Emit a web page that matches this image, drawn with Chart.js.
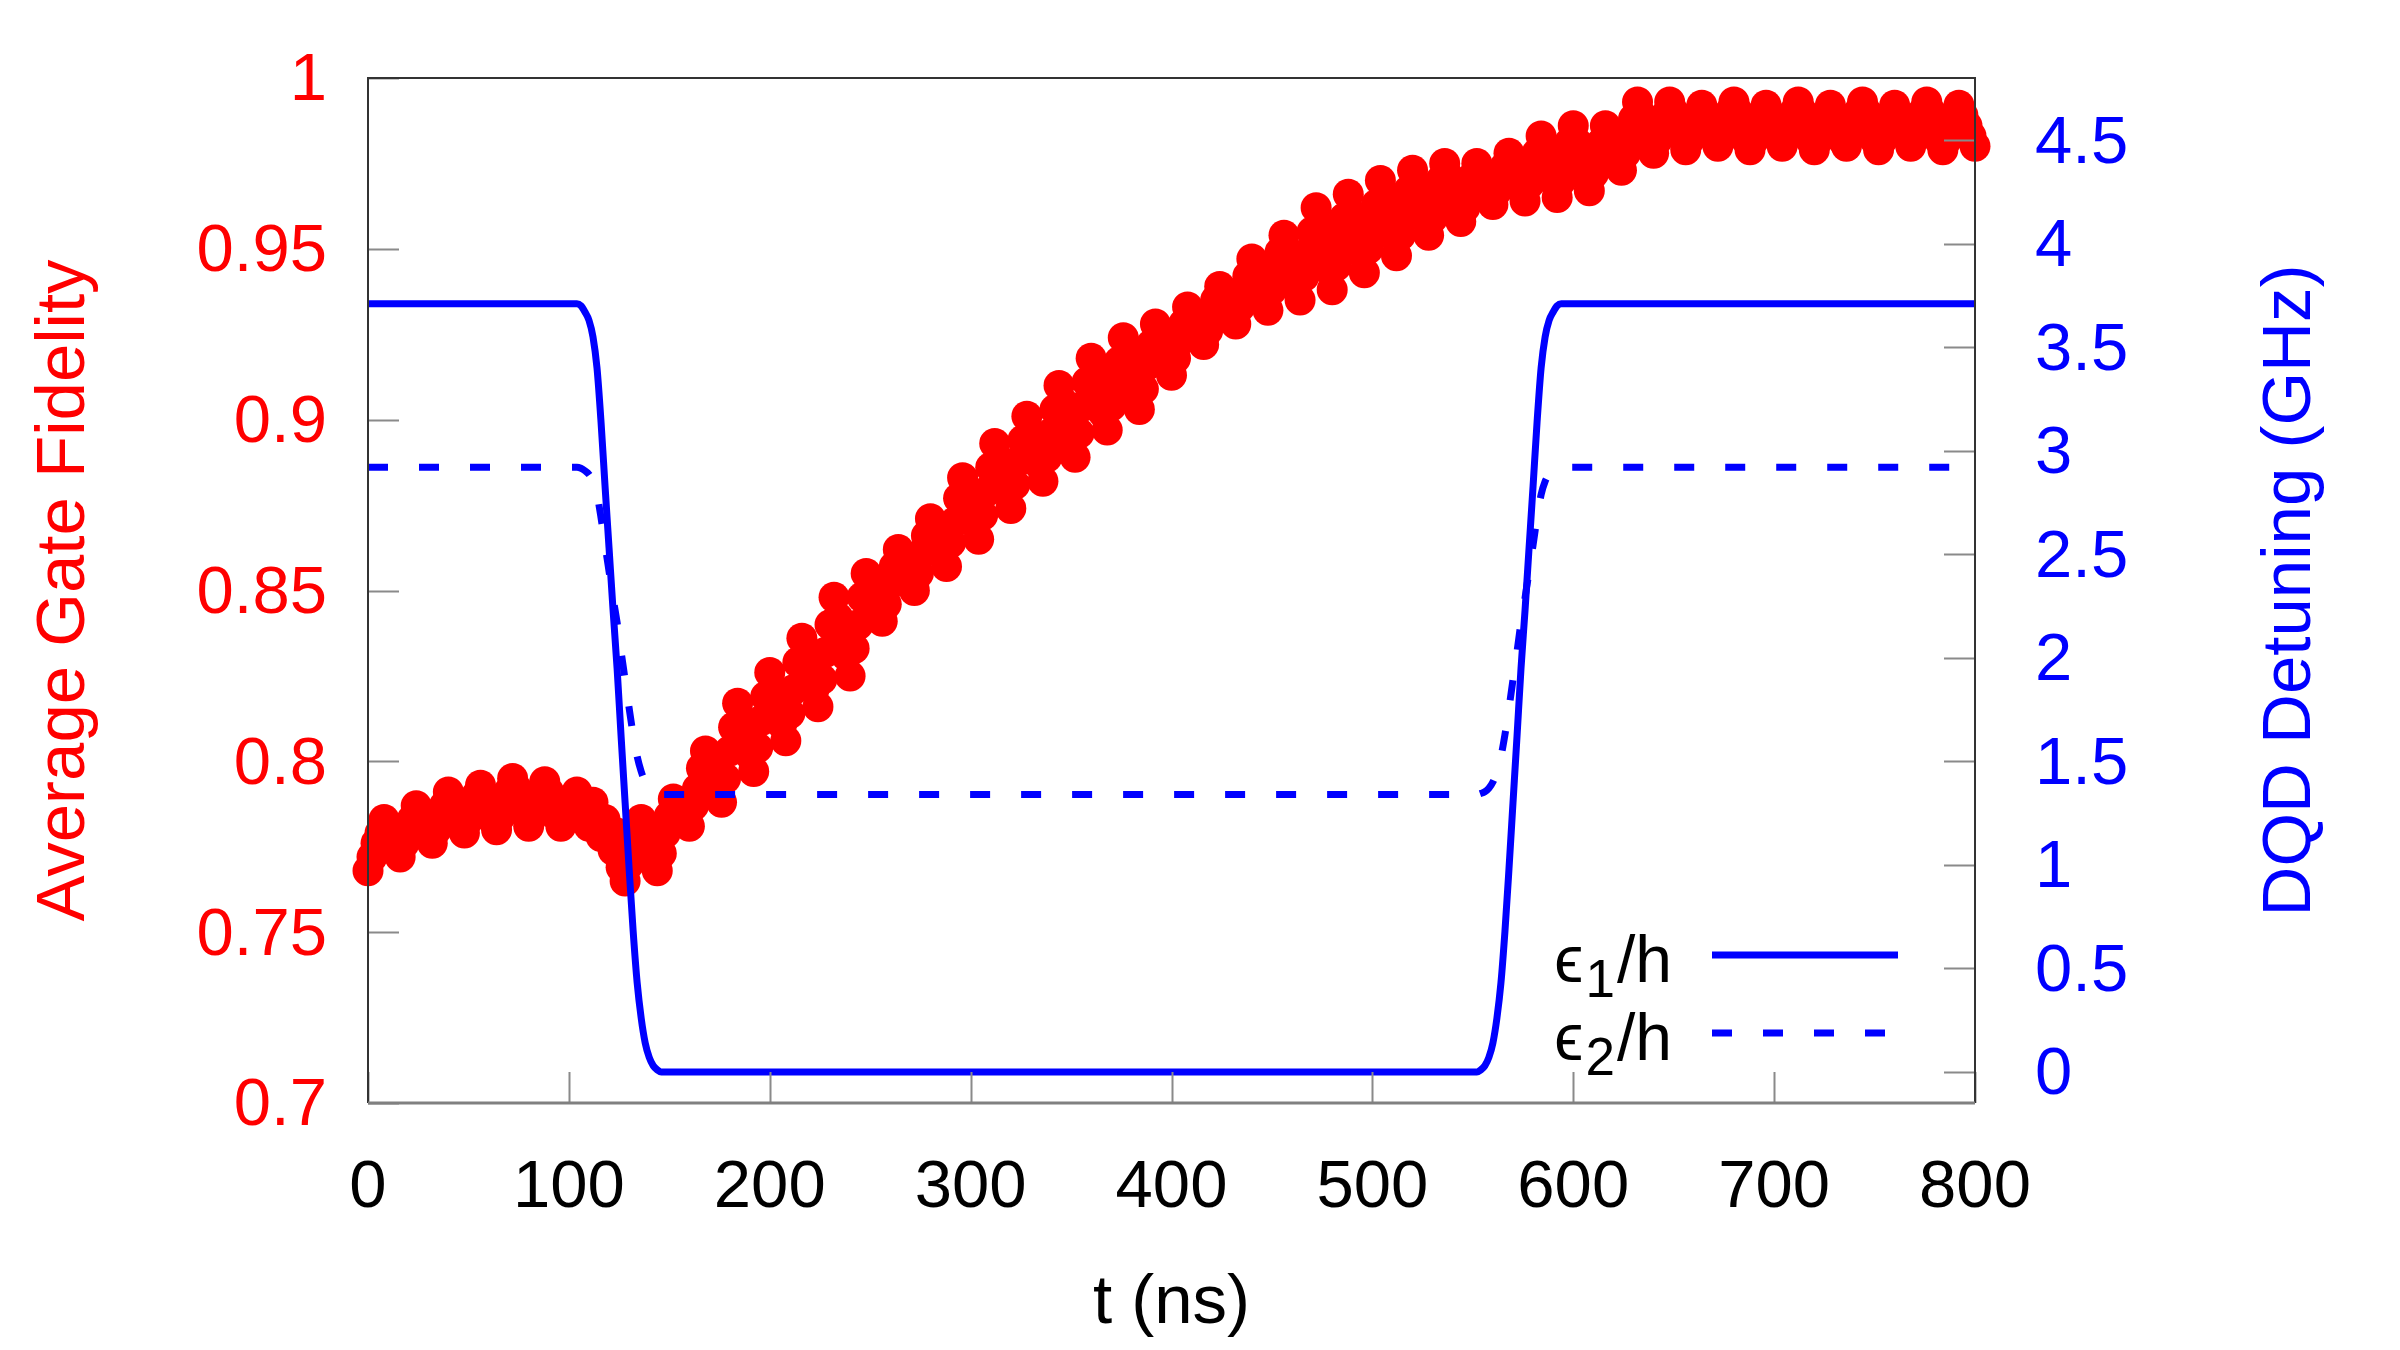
<!DOCTYPE html>
<html>
<head>
<meta charset="utf-8">
<script src="https://cdn.jsdelivr.net/npm/chart.js@4.4.1/dist/chart.umd.min.js"></script>
<style>
html,body{margin:0;padding:0;background:#fff;}
#wrap{width:2400px;height:1350px;}
canvas{display:block;}
</style>
</head>
<body>
<div id="wrap"><canvas id="c" width="2400" height="1350" style="width:2400px;height:1350px"></canvas></div>
<script>
// ---------------- data ----------------
const fidelityTimes = [
  0,2,4,6,8,10,12,14,16,18,20,22,24,26,28,30,32,34,36,38,40,42,44,46,48,50,52,54,56,58,60,62,64,66,68,70,72,74,76,78,80,82,84,86,88,90,92,94,96,98,
  100,102,104,106,108,110,112,114,116,118,120,122,124,126,128,130,132,134,136,138,140,142,144,146,148,150,152,154,156,158,160,162,164,166,168,170,172,174,176,178,180,182,184,186,188,190,192,194,196,198,
  200,202,204,206,208,210,212,214,216,218,220,222,224,226,228,230,232,234,236,238,240,242,244,246,248,250,252,254,256,258,260,262,264,266,268,270,272,274,276,278,280,282,284,286,288,290,292,294,296,298,
  300,302,304,306,308,310,312,314,316,318,320,322,324,326,328,330,332,334,336,338,340,342,344,346,348,350,352,354,356,358,360,362,364,366,368,370,372,374,376,378,380,382,384,386,388,390,392,394,396,398,
  400,402,404,406,408,410,412,414,416,418,420,422,424,426,428,430,432,434,436,438,440,442,444,446,448,450,452,454,456,458,460,462,464,466,468,470,472,474,476,478,480,482,484,486,488,490,492,494,496,498,
  500,502,504,506,508,510,512,514,516,518,520,522,524,526,528,530,532,534,536,538,540,542,544,546,548,550,552,554,556,558,560,562,564,566,568,570,572,574,576,578,580,582,584,586,588,590,592,594,596,598,
  600,602,604,606,608,610,612,614,616,618,620,622,624,626,628,630,632,634,636,638,640,642,644,646,648,650,652,654,656,658,660,662,664,666,668,670,672,674,676,678,680,682,684,686,688,690,692,694,696,698,
  700,702,704,706,708,710,712,714,716,718,720,722,724,726,728,730,732,734,736,738,740,742,744,746,748,750,752,754,756,758,760,762,764,766,768,770,772,774,776,778,780,782,784,786,788,790,792,794,796,798,
  800
];
const fidelityValues = [
  0.768,0.772,0.776,0.779,0.783,0.780,0.778,0.775,0.772,0.776,0.780,0.783,0.787,0.784,0.782,0.779,0.776,0.780,0.784,0.787,0.791,0.788,0.785,0.782,0.779,0.783,0.786,0.790,0.793,0.790,0.787,0.783,0.780,0.784,0.788,0.791,0.795,0.792,0.788,0.785,0.781,0.784,0.788,0.791,0.794,0.791,0.788,0.784,0.781,0.784,
  0.786,0.789,0.791,0.788,0.785,0.781,0.788,0.782,0.778,0.783,0.780,0.774,0.779,0.769,0.765,0.770,0.776,0.781,0.783,0.779,0.776,0.772,0.768,0.773,0.779,0.784,0.789,0.787,0.785,0.783,0.781,0.787,0.792,0.798,0.803,0.799,0.796,0.792,0.788,0.795,0.803,0.810,0.817,0.812,0.807,0.802,0.797,0.804,0.812,0.819,
  0.826,0.821,0.816,0.811,0.806,0.814,0.821,0.829,0.836,0.831,0.826,0.821,0.816,0.824,0.832,0.840,0.848,0.842,0.837,0.831,0.825,0.833,0.840,0.848,0.855,0.852,0.848,0.845,0.841,0.846,0.852,0.857,0.862,0.859,0.856,0.853,0.850,0.855,0.861,0.866,0.871,0.868,0.864,0.861,0.857,0.864,0.870,0.877,0.883,0.879,
  0.874,0.870,0.865,0.872,0.879,0.886,0.893,0.888,0.884,0.879,0.874,0.881,0.888,0.894,0.901,0.896,0.892,0.887,0.882,0.889,0.896,0.903,0.910,0.905,0.900,0.894,0.889,0.896,0.904,0.911,0.918,0.913,0.908,0.902,0.897,0.904,0.911,0.917,0.924,0.919,0.914,0.908,0.903,0.909,0.916,0.922,0.928,0.924,0.921,0.917,
  0.913,0.918,0.923,0.928,0.933,0.930,0.928,0.925,0.922,0.926,0.931,0.935,0.939,0.936,0.934,0.931,0.928,0.933,0.938,0.942,0.947,0.943,0.940,0.936,0.932,0.938,0.943,0.949,0.954,0.949,0.945,0.940,0.935,0.942,0.949,0.955,0.962,0.956,0.950,0.944,0.938,0.945,0.952,0.959,0.966,0.960,0.955,0.949,0.943,0.950,
  0.957,0.963,0.970,0.965,0.959,0.954,0.948,0.954,0.961,0.967,0.973,0.968,0.964,0.959,0.954,0.959,0.965,0.970,0.975,0.971,0.967,0.962,0.958,0.962,0.967,0.971,0.975,0.972,0.969,0.966,0.963,0.967,0.971,0.974,0.978,0.975,0.971,0.968,0.964,0.969,0.974,0.978,0.983,0.979,0.974,0.970,0.965,0.970,0.976,0.981,
  0.986,0.981,0.977,0.972,0.967,0.972,0.977,0.981,0.986,0.983,0.980,0.976,0.973,0.978,0.983,0.988,0.993,0.989,0.986,0.982,0.978,0.982,0.986,0.989,0.993,0.990,0.986,0.983,0.979,0.982,0.986,0.989,0.992,0.989,0.986,0.983,0.980,0.983,0.986,0.990,0.993,0.990,0.986,0.982,0.979,0.982,0.986,0.989,0.992,0.989,
  0.986,0.983,0.980,0.983,0.987,0.990,0.993,0.990,0.986,0.982,0.979,0.982,0.986,0.989,0.992,0.989,0.985,0.982,0.980,0.983,0.987,0.990,0.993,0.990,0.986,0.982,0.979,0.982,0.986,0.989,0.992,0.989,0.986,0.983,0.980,0.983,0.986,0.990,0.993,0.990,0.986,0.982,0.979,0.982,0.985,0.989,0.992,0.989,0.986,0.983,
  0.980
];
const detuningTimes = [
  0,100,104,106,108,110,112,114,116,118,120,122,124,126,128,130,132,134,136,138,140,142,144,146,
  552,554,556,558,560,562,564,566,568,570,572,574,576,578,580,582,584,586,588,590,592,594,700,800
];
const eps1Values = [
  3.71,3.71,3.71,3.70,3.67,3.63,3.55,3.40,3.14,2.83,2.53,2.23,1.95,1.62,1.30,0.98,0.68,0.43,0.26,0.14,0.07,0.03,0.01,0,
  0,0.01,0.03,0.07,0.14,0.26,0.43,0.68,0.98,1.30,1.62,1.95,2.23,2.53,2.83,3.14,3.40,3.55,3.63,3.67,3.70,3.71,3.71,3.71
];
const eps2Values = [
  2.92,2.92,2.92,2.915,2.903,2.886,2.852,2.788,2.677,2.545,2.417,2.290,2.171,2.030,1.894,1.757,1.629,1.523,1.451,1.400,1.370,1.353,1.345,1.34,
  1.34,1.345,1.353,1.370,1.400,1.451,1.523,1.629,1.757,1.894,2.030,2.171,2.290,2.417,2.545,2.677,2.788,2.852,2.886,2.903,2.915,2.92,2.92,2.92
];
const xTickValues = [0,100,200,300,400,500,600,700,800];
const fidelityTickValues = [0.7,0.75,0.8,0.85,0.9,0.95,1];
const detuningTickValues = [0,0.5,1,1.5,2,2.5,3,3.5,4,4.5];
const xTitleText = 't (ns)';
const fidelityTitleText = 'Average Gate Fidelity';
const detuningTitleText = 'DQD Detuning (GHz)';
const legendEntries = [
  {base:'\u03F5', sub:'1', tail:'/h'},
  {base:'\u03F5', sub:'2', tail:'/h'}
];

// ---------------- style ----------------
const FONT = "'Liberation Sans', Arial, sans-serif";
const RED = '#ff0000';
const BLUE = '#0000ff';

const toPoints = (xs, ys) => xs.map((x, i) => ({x: x, y: ys[i]}));

const framePlugin = {
  id: 'frame',
  afterDatasetsDraw(chart) {
    const {ctx, chartArea: a, scales} = chart;
    ctx.save();
    ctx.strokeStyle = '#8a8a8a';
    ctx.lineWidth = 2;
    ctx.beginPath();
    scales.x.ticks.forEach(t => {
      const p = Math.round(scales.x.getPixelForValue(t.value)) + 0.5;
      ctx.moveTo(p, a.bottom); ctx.lineTo(p, a.bottom - 31);
    });
    scales.y.ticks.forEach(t => {
      const p = Math.round(scales.y.getPixelForValue(t.value)) + 0.5;
      ctx.moveTo(a.left, p); ctx.lineTo(a.left + 31, p);
    });
    scales.y2.ticks.forEach(t => {
      const p = Math.round(scales.y2.getPixelForValue(t.value)) + 0.5;
      ctx.moveTo(a.right - 31, p); ctx.lineTo(a.right, p);
    });
    ctx.stroke();
    ctx.strokeStyle = '#333333';
    ctx.lineWidth = 2;
    ctx.beginPath();
    ctx.moveTo(a.left, a.bottom);
    ctx.lineTo(a.left, a.top);
    ctx.lineTo(a.right, a.top);
    ctx.lineTo(a.right, a.bottom);
    ctx.stroke();
    ctx.strokeStyle = '#808080';
    ctx.lineWidth = 3;
    ctx.beginPath();
    ctx.moveTo(a.left, a.bottom);
    ctx.lineTo(a.right, a.bottom);
    ctx.stroke();
    ctx.restore();
  },
  afterDraw(chart) {
    const {ctx, chartArea: a} = chart;
    ctx.save();
    ctx.translate(a.right + 316, (a.top + a.bottom) / 2);
    ctx.rotate(-Math.PI / 2);
    ctx.fillStyle = BLUE;
    ctx.font = '69px ' + FONT;
    ctx.textAlign = 'center';
    ctx.textBaseline = 'middle';
    ctx.fillText(detuningTitleText, 0, 0);
    ctx.restore();

    const rows = [
      {entry: legendEntries[0], ds: chart.data.datasets[0], base: a.bottom - 121, lineY: a.bottom - 148},
      {entry: legendEntries[1], ds: chart.data.datasets[1], base: a.bottom - 43, lineY: a.bottom - 70}
    ];
    const mainFont = '66px ' + FONT;
    const subFont = '53px ' + FONT;
    const textRight = a.right - 303;
    rows.forEach(r => {
      ctx.save();
      ctx.fillStyle = '#000';
      ctx.textBaseline = 'alphabetic';
      ctx.textAlign = 'left';
      ctx.font = mainFont;
      const wBase = ctx.measureText(r.entry.base).width;
      const wTail = ctx.measureText(r.entry.tail).width;
      ctx.font = subFont;
      const wSub = ctx.measureText(r.entry.sub).width;
      let x = textRight - (wBase + wSub + wTail + 4);
      ctx.font = mainFont;
      ctx.fillText(r.entry.base, x, r.base);
      x += wBase + 2;
      ctx.font = subFont;
      ctx.fillText(r.entry.sub, x, r.base + 15);
      x += wSub + 2;
      ctx.font = mainFont;
      ctx.fillText(r.entry.tail, x, r.base);
      ctx.strokeStyle = r.ds.borderColor;
      ctx.lineWidth = r.ds.borderWidth;
      ctx.setLineDash(r.ds.borderDash || []);
      ctx.lineCap = 'butt';
      ctx.beginPath();
      ctx.moveTo(a.right - 263, r.lineY);
      ctx.lineTo(a.right - 77, r.lineY);
      ctx.stroke();
      ctx.restore();
    });
  }
};

const noPadY = s => { s.paddingTop = 0; s.paddingBottom = 0; };

new Chart(document.getElementById('c'), {
  type: 'scatter',
  data: {
    datasets: [
      {
        type: 'line',
        label: '\u03F5\u2081/h',
        data: toPoints(detuningTimes, eps1Values),
        yAxisID: 'y2',
        borderColor: BLUE,
        borderWidth: 7,
        borderJoinStyle: 'round',
        pointRadius: 0,
        fill: false,
        cubicInterpolationMode: 'monotone',
        order: 1
      },
      {
        type: 'line',
        label: '\u03F5\u2082/h',
        data: toPoints(detuningTimes, eps2Values),
        yAxisID: 'y2',
        borderColor: BLUE,
        borderWidth: 7,
        borderDash: [20, 31],
        pointRadius: 0,
        fill: false,
        cubicInterpolationMode: 'monotone',
        order: 1
      },
      {
        type: 'scatter',
        label: 'Average Gate Fidelity',
        data: toPoints(fidelityTimes, fidelityValues),
        yAxisID: 'y',
        backgroundColor: RED,
        borderColor: RED,
        pointRadius: 15.5,
        pointBorderWidth: 0,
        borderWidth: 0,
        clip: false,
        order: 2
      }
    ]
  },
  options: {
    responsive: false,
    animation: false,
    devicePixelRatio: 1,
    layout: {padding: {top: 78, left: 0, right: 0, bottom: 0}},
    plugins: {legend: {display: false}, tooltip: {enabled: false}},
    scales: {
      x: {
        type: 'linear', position: 'bottom', min: 0, max: 800,
        afterBuildTicks: s => { s.ticks = xTickValues.map(v => ({value: v})); },
        afterFit: s => { s.height = 247; s.paddingLeft = 0; s.paddingRight = 0; },
        grid: {display: false, drawTicks: false},
        border: {display: false},
        ticks: {color: '#000', font: {family: FONT, size: 67, lineHeight: 1.2}, padding: 45, maxRotation: 0, autoSkip: false, callback: v => String(v)},
        title: {display: true, text: xTitleText, color: '#000', font: {family: FONT, size: 69, lineHeight: 1}, padding: 12}
      },
      y: {
        type: 'linear', position: 'left', min: 0.7, max: 1,
        afterBuildTicks: s => { s.ticks = fidelityTickValues.map(v => ({value: v})); },
        afterFit: s => { s.width = 368; noPadY(s); },
        grid: {display: false, drawTicks: false},
        border: {display: false},
        ticks: {color: RED, font: {family: FONT, size: 67, lineHeight: 1.2}, padding: 41, labelOffset: 4, autoSkip: false, callback: v => String(v)},
        title: {display: true, text: fidelityTitleText, color: RED, font: {family: FONT, size: 69, lineHeight: 1}, padding: 30}
      },
      y2: {
        type: 'linear', position: 'right', min: -0.15, max: 4.8,
        afterBuildTicks: s => { s.ticks = detuningTickValues.map(v => ({value: v})); },
        afterFit: s => { s.width = 425; noPadY(s); },
        grid: {display: false, drawTicks: false},
        border: {display: false},
        ticks: {color: BLUE, font: {family: FONT, size: 67, lineHeight: 1.2}, padding: 60, labelOffset: 4, autoSkip: false, callback: v => String(v)},
        title: {display: false}
      }
    }
  },
  plugins: [framePlugin]
});
</script>
</body>
</html>
